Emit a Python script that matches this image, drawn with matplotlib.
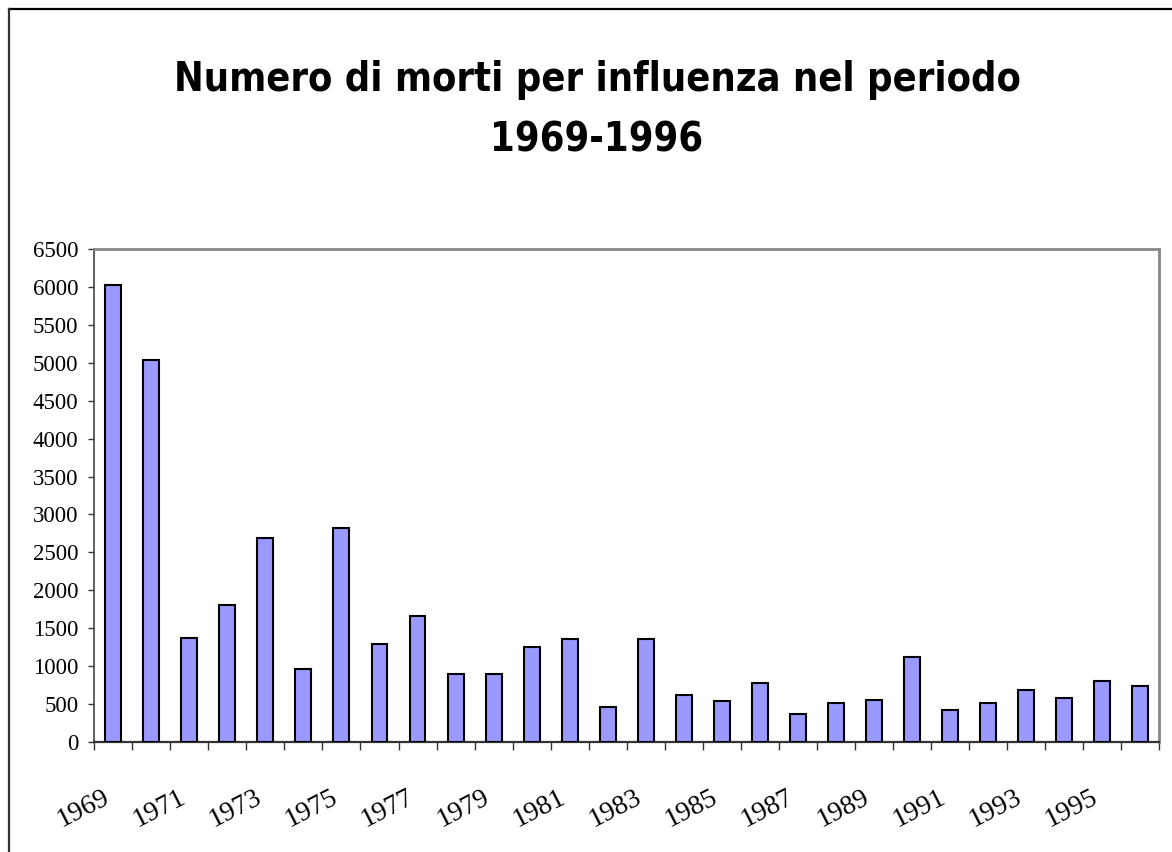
import matplotlib.pyplot as plt
import matplotlib.transforms as mtransforms
from matplotlib.lines import Line2D

# influenza deaths per year
years = list(range(1969, 1997))
deaths = [6030, 5030, 1373, 1805, 2693, 969, 2817, 1286,
          1664, 890, 898, 1254, 1356, 462, 1360, 626, 537, 775,
          370, 511, 554, 1127, 418, 515, 687, 581, 801, 739]
y_ticks = list(range(0, 6501, 500))
title = "Numero di morti per influenza nel periodo\n1969-1996"

W, H = 1172, 852
fig = plt.figure(figsize=(W / 100, H / 100), dpi=100)
fig.patch.set_facecolor("white")

# outer frame (top and left edges only are visible)
fig.add_artist(Line2D([9 / W, 1.0], [1 - 9 / H, 1 - 9 / H], color="black", lw=1.6))
fig.add_artist(Line2D([9.5 / W, 9.5 / W], [0, 1 - 9 / H], color="#333333", lw=1.6))

ax = fig.add_axes([94.3 / W, 110 / H, 1064.7 / W, 493 / H])
x = list(range(len(years)))
ax.bar(x, deaths, width=0.42, color="#9999ff", edgecolor="black", linewidth=1.5, zorder=3)

ax.set_xlim(-0.5, len(years) - 0.5)
ax.set_ylim(0, 6500)
ax.set_yticks(y_ticks)
ax.set_yticklabels([str(v) for v in y_ticks], family="Liberation Serif", fontsize=16.5)

ax.set_xticks(x[::2])
ax.set_xticklabels([str(y) for y in years[::2]], family="Liberation Serif", fontsize=20,
                   rotation=27, ha="right", rotation_mode="anchor")
ax.set_xticks([i - 0.5 for i in range(len(years) + 1)], minor=True)
ax.tick_params(axis="x", which="major", length=0, pad=31)
ax.tick_params(axis="x", which="minor", length=5.8, width=1.0, color="#333333", direction="out")
ax.tick_params(axis="y", length=4.5, width=1.0, color="#333333", direction="out", pad=7)

shift = mtransforms.ScaledTranslation(-8 / 72, 0, fig.dpi_scale_trans)
for lab in ax.get_xticklabels():
    lab.set_transform(lab.get_transform() + shift)

ax.spines["left"].set_color("#444444")
ax.spines["left"].set_linewidth(1.2)
ax.spines["bottom"].set_color("#333333")
ax.spines["bottom"].set_linewidth(1.6)
for s in ("top", "right"):
    ax.spines[s].set_color("#888888")
    ax.spines[s].set_linewidth(2.0)

fig.text(597 / W, 1 - 110 / H, title, ha="center", va="center", fontsize=28.5,
         fontweight="bold", fontstretch="condensed", family="DejaVu Sans",
         linespacing=1.65)

fig.savefig("out.png", dpi=100)
